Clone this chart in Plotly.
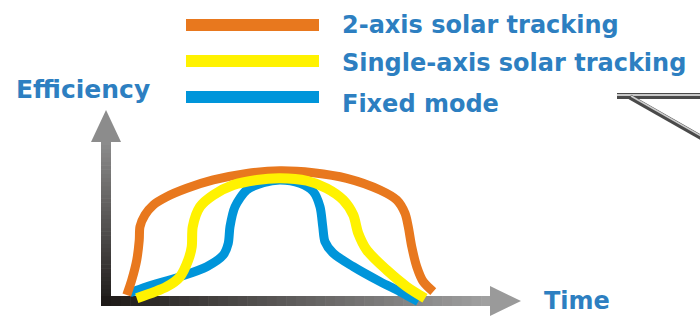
import plotly.graph_objects as go

# ---- data (time in hours, efficiency in %) ----
series_names = ["2-axis solar tracking", "Single-axis solar tracking", "Fixed mode"]
series_colors = ["#E8781E", "#FFF200", "#0095DA"]

two_axis_t = [5.87, 6.07, 6.27, 6.37, 6.40, 6.60, 6.93, 7.47, 8.27, 9.33, 10.67, 12.0,
              13.33, 14.67, 16.0, 16.67, 17.0, 17.13, 17.27, 17.47, 17.73, 18.13]
two_axis_eff = [4.6, 16.2, 31.5, 46.9, 57.2, 66.2, 73.8, 80.2, 86.7, 93.1, 98.2, 100.2,
                98.7, 94.4, 85.4, 77.7, 67.5, 57.2, 41.8, 26.4, 14.9, 7.2]

single_axis_t = [6.27, 7.47, 8.0, 8.33, 8.47, 8.51, 8.8, 9.33, 10.13, 11.07, 12.0, 13.07,
                 13.87, 14.53, 14.93, 15.13, 15.47, 16.27, 17.07, 17.8]
single_axis_eff = [2.1, 11.0, 18.7, 31.5, 41.8, 57.2, 72.5, 81.5, 89.2, 93.1, 94.4, 92.5,
                   86.7, 77.7, 66.2, 52.1, 39.2, 23.8, 11.0, 2.1]

fixed_t = [6.0, 6.67, 8.0, 9.07, 9.73, 9.93, 10.0, 10.2, 10.67, 11.33, 12.0, 12.8, 13.33,
           13.6, 13.71, 13.8, 14.13, 14.93, 16.0, 16.8, 17.53]
fixed_eff = [6.4, 11.0, 18.7, 26.4, 35.4, 44.4, 57.2, 72.5, 85.4, 91.0, 93.1, 90.5, 84.1,
             72.5, 57.2, 45.6, 36.7, 26.4, 14.9, 7.2, -0.5]

axis_labels = ["Efficiency", "Time"]

TEXT_BLUE = "#2D7FC1"
FONT = "DejaVu Sans"

fig = go.Figure()

# curves on the data axes (drawn: fixed, 2-axis, single-axis)
order = [(2, fixed_t, fixed_eff, 9), (0, two_axis_t, two_axis_eff, 9), (1, single_axis_t, single_axis_eff, 10)]
for idx, t, e, w in order:
    fig.add_trace(go.Scatter(x=t, y=e, mode="lines", name=series_names[idx],
                             line=dict(color=series_colors[idx], width=w, shape="spline", smoothing=0.8),
                             xaxis="x2", yaxis="y2", showlegend=False, hoverinfo="skip"))

shapes = []


def lerp_color(c0, c1, f):
    return "rgb(%d,%d,%d)" % tuple(int(round(a + (b - a) * f)) for a, b in zip(c0, c1))


# vertical shaft gradient (bottom dark -> top gray)
N = 40
y_top, y_bot = 141, 306
for i in range(N):
    y0 = y_bot - (y_bot - y_top) * i / N
    y1 = y_bot - (y_bot - y_top) * (i + 1) / N
    col = lerp_color((30, 26, 24), (140, 140, 140), i / (N - 1))
    shapes.append(dict(type="rect", xref="x", yref="y", x0=101, x1=111, y0=y0, y1=y1 - 0.6,
                       fillcolor=col, line=dict(width=0), layer="below"))
# horizontal shaft gradient (left dark -> right gray)
x_l, x_r = 101, 491
for i in range(N):
    x0 = x_l + (x_r - x_l) * i / N
    x1 = x_l + (x_r - x_l) * (i + 1) / N
    col = lerp_color((30, 26, 24), (160, 160, 160), i / (N - 1))
    shapes.append(dict(type="rect", xref="x", yref="y", x0=x0, x1=x1 + 0.6, y0=296, y1=306,
                       fillcolor=col, line=dict(width=0), layer="below"))
# arrow heads
shapes.append(dict(type="path", xref="x", yref="y", path="M 91,142 L 106,110 L 121,142 Z",
                   fillcolor="#8C8C8C", line=dict(width=0), layer="below"))
shapes.append(dict(type="path", xref="x", yref="y", path="M 490,286 L 521,301 L 490,316 Z",
                   fillcolor="#9A9A9A", line=dict(width=0), layer="below"))

# legend bars
for i, yc in enumerate([25, 61, 97]):
    shapes.append(dict(type="rect", xref="x", yref="y", x0=186, x1=319, y0=yc - 6, y1=yc + 6,
                       fillcolor=series_colors[i], line=dict(width=0)))

# tube-like bar at top right
shapes.append(dict(type="line", xref="x", yref="y", x0=617, x1=702, y0=96, y1=96,
                   line=dict(color="#4a4a4a", width=6)))
shapes.append(dict(type="line", xref="x", yref="y", x0=617, x1=702, y0=95, y1=95,
                   line=dict(color="#c8c8c8", width=2)))
shapes.append(dict(type="line", xref="x", yref="y", x0=630, x1=702, y0=97, y1=138,
                   line=dict(color="#4a4a4a", width=5)))
shapes.append(dict(type="line", xref="x", yref="y", x0=631, x1=703, y0=96, y1=137,
                   line=dict(color="#cfcfcf", width=1.5)))

annotations = []
for i, yc in enumerate([25, 63, 104]):
    annotations.append(dict(x=340, y=yc, xref="x", yref="y", text=series_names[i], showarrow=False,
                            xanchor="left", yanchor="middle",
                            font=dict(family=FONT, size=24, color=TEXT_BLUE, weight="bold")))
annotations.append(dict(x=14, y=89, xref="x", yref="y", text=axis_labels[0], showarrow=False,
                        xanchor="left", yanchor="middle",
                        font=dict(family=FONT, size=25, color=TEXT_BLUE, weight="bold")))
annotations.append(dict(x=542, y=301, xref="x", yref="y", text=axis_labels[1], showarrow=False,
                        xanchor="left", yanchor="middle",
                        font=dict(family=FONT, size=24, color=TEXT_BLUE, weight="bold")))

fig.update_layout(
    width=700, height=316,
    margin=dict(l=0, r=0, t=0, b=0),
    paper_bgcolor="white", plot_bgcolor="white",
    xaxis=dict(range=[0, 700], visible=False, fixedrange=True),
    yaxis=dict(range=[316, 0], visible=False, fixedrange=True),
    xaxis2=dict(range=[0.8, 28.8], overlaying="x", visible=False, fixedrange=True),
    yaxis2=dict(range=[-11.54, 231.54], overlaying="y", visible=False, fixedrange=True),
    shapes=shapes, annotations=annotations, showlegend=False,
)

fig.write_html("out.html", config={"displayModeBar": False},
               post_script="document.body.style.margin='0';document.body.style.overflow='hidden';")
